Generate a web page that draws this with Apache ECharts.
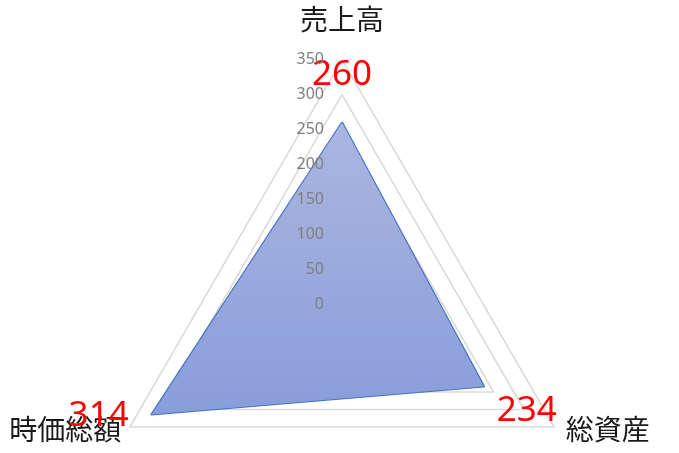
<!DOCTYPE html>
<html lang="ja">
<head>
<meta charset="UTF-8">
<title>レーダーチャート</title>
<script src="https://cdn.jsdelivr.net/npm/echarts@6/dist/echarts.min.js"></script>
<style>
    html, body { margin: 0; padding: 0; background: #fff; }
    #chart { width: 679px; height: 453px; }
</style>
</head>
<body>
<div id="chart"></div>
<script>
// data
var indicatorNames = ['売上高', '時価総額', '総資産'];
var values = [260, 314, 234];
var axisMin = 0;
var axisMax = 350;
var tickStep = 50;

// where the red value labels sit relative to their point
var labelOffsets = [[0, -47], [-53, 2], [43, 25]];
var nameStyles = ['top', 'left', 'right'];

var chart = echarts.init(document.getElementById('chart'));

var indicators = indicatorNames.map(function (n, i) {
    return { name: n, min: axisMin, max: axisMax };
});
// second radar only carries the tick labels, drawn over the fill
var labelIndicators = indicatorNames.map(function (n, i) {
    return { name: n, min: axisMin, max: axisMax, axisLabel: { show: i === 0 } };
});

var radarBase = {
    center: [342, 304.5],
    radius: 245,
    startAngle: 90,
    shape: 'polygon',
    splitNumber: (axisMax - axisMin) / tickStep
};

var series = [{
    type: 'radar',
    radarIndex: 0,
    symbol: 'none',
    silent: true,
    z: 2,
    lineStyle: { color: '#4472c4', width: 2.25 },
    areaStyle: {
        opacity: 1,
        color: new echarts.graphic.LinearGradient(0, 0, 0, 1, [
            { offset: 0, color: '#abb6df' },
            { offset: 1, color: '#899ddb' }
        ])
    },
    data: [{ value: values }]
}];

// one invisible series per point so every value label gets its own offset
values.forEach(function (v, k) {
    series.push({
        type: 'radar',
        radarIndex: 0,
        symbol: 'circle',
        symbolSize: 1,
        silent: true,
        z: 6,
        itemStyle: { color: 'rgba(0,0,0,0)' },
        lineStyle: { opacity: 0, width: 0 },
        label: {
            show: true,
            position: 'inside',
            offset: labelOffsets[k],
            color: '#ff0000',
            fontSize: 35,
            fontFamily: 'Noto Sans',
            formatter: function (p) {
                return p.dimensionIndex === k ? String(p.value) : '';
            }
        },
        data: [{ value: values }]
    });
});

var option = {
    animation: false,
    backgroundColor: '#ffffff',
    radar: [
        Object.assign({}, radarBase, {
            z: 0,
            indicator: indicators,
            axisLine: { show: false },
            axisTick: { show: false },
            axisLabel: { show: false },
            splitArea: { show: false },
            splitLine: { lineStyle: { color: '#d9d9d9', width: 1.5 } },
            axisNameGap: 4,
            nameGap: 4,
            axisName: {
                color: '#1a1a1a',
                fontSize: 28,
                fontFamily: 'Noto Sans CJK JP',
                formatter: function (name) {
                    return '{' + nameStyles[indicatorNames.indexOf(name)] + '|' + name + '}';
                },
                rich: {
                    top: { fontSize: 28, lineHeight: 73, fontFamily: 'Noto Sans CJK JP', color: '#1a1a1a' },
                    left: { fontSize: 28, lineHeight: 2, padding: [0, 5, 0, 0], fontFamily: 'Noto Sans CJK JP', color: '#1a1a1a' },
                    right: { fontSize: 28, lineHeight: 2, padding: [0, 0, 0, 8], fontFamily: 'Noto Sans CJK JP', color: '#1a1a1a' }
                }
            }
        }),
        Object.assign({}, radarBase, {
            z: 10,
            indicator: labelIndicators,
            axisLine: { show: false },
            axisTick: { show: false },
            splitLine: { show: false },
            splitArea: { show: false },
            axisName: { show: false },
            axisLabel: {
                color: '#7f7f7f',
                fontSize: 16,
                margin: 18,
                fontFamily: 'Noto Sans'
            }
        })
    ],
    series: series
};

chart.setOption(option);
</script>
</body>
</html>
